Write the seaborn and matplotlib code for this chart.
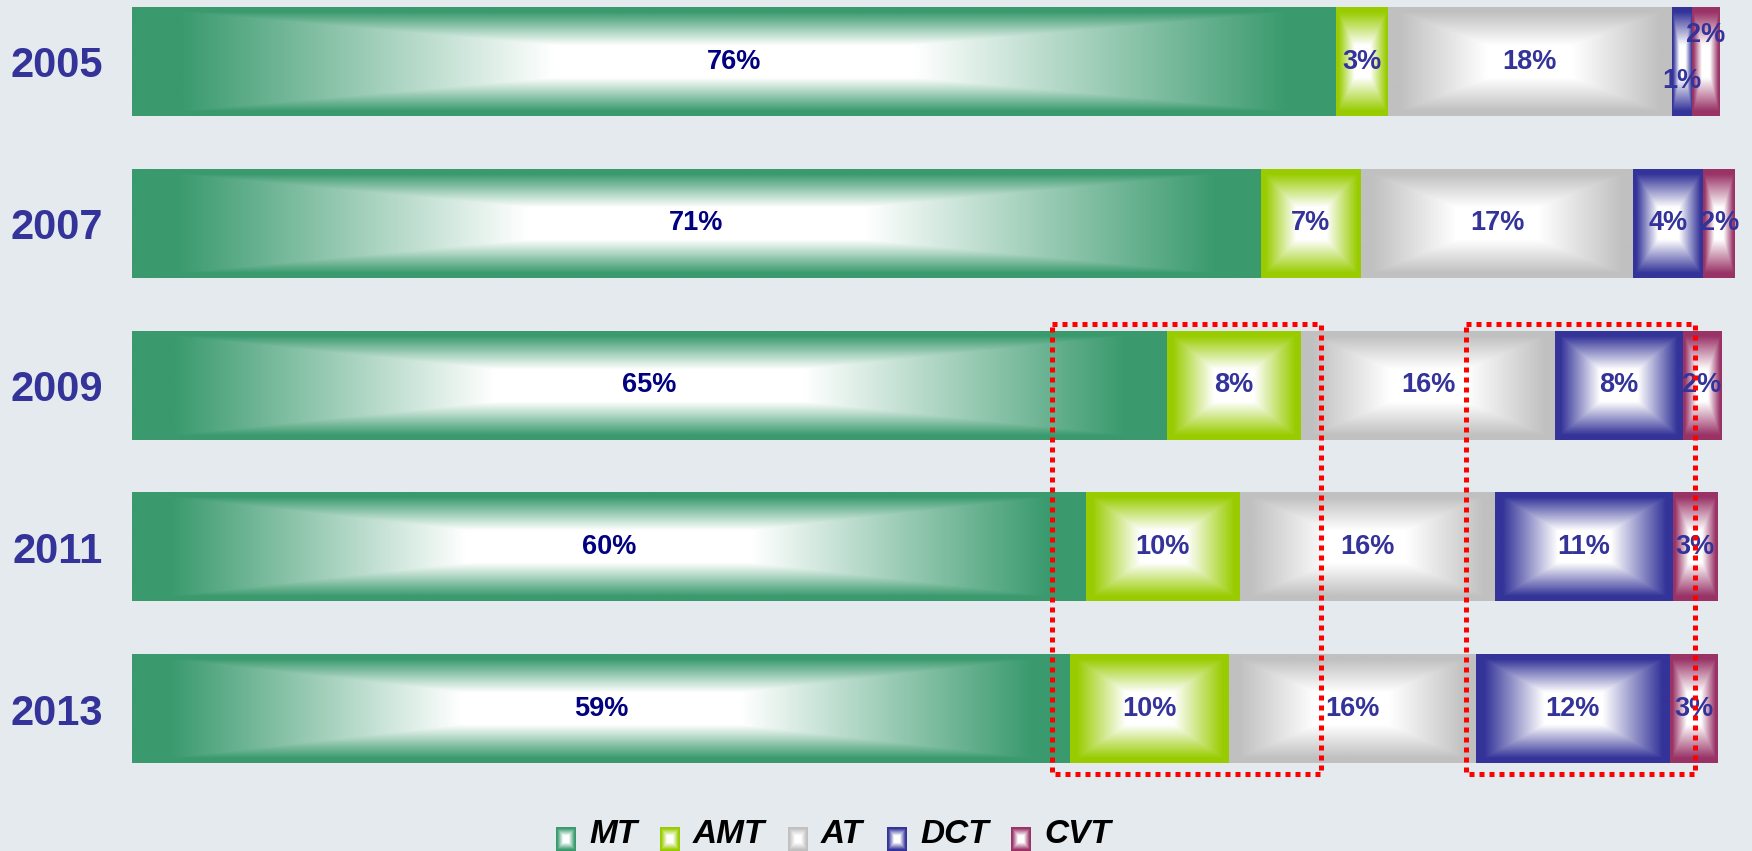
# Stacked share of transmission types by year, with rectangular gradient fills
import numpy as np
import pandas as pd
import matplotlib
matplotlib.use('Agg')
import matplotlib.pyplot as plt
import matplotlib.patches as mpatches
from matplotlib.colors import to_rgb
import seaborn as sns

years = ['2005', '2007', '2009', '2011', '2013']
types = ['MT', 'AMT', 'AT', 'DCT', 'CVT']
mt = [75.6, 70.9, 65.0, 59.9, 58.9]
amt = [3.3, 6.3, 8.4, 9.7, 10.0]
at = [17.8, 17.1, 16.0, 16.0, 15.5]
dct = [1.3, 4.4, 8.0, 11.2, 12.2]
cvt = [1.7, 2.0, 2.4, 2.8, 3.0]
labels = [
    ['76%', '3%', '18%', '1%', '2%'],
    ['71%', '7%', '17%', '4%', '2%'],
    ['65%', '8%', '16%', '8%', '2%'],
    ['60%', '10%', '16%', '11%', '3%'],
    ['59%', '10%', '16%', '12%', '3%'],
]
colors = ['#3a9a6e', '#99cc00', '#c0c0c0', '#333399', '#993366']
bg = '#e5eaee'

df = pd.DataFrame({'year': years, 'MT': mt, 'AMT': amt, 'AT': at, 'DCT': dct, 'CVT': cvt})
cum = df[types].cumsum(axis=1)

sns.set_style('white')
plt.rcParams['font.family'] = ['Liberation Sans', 'DejaVu Sans']

fig = plt.figure(figsize=(17.52, 8.51), dpi=100, facecolor=bg)
ax = fig.add_axes([132 / 1752, 69 / 851, 1608 / 1752, 782 / 851])
ax.set_facecolor(bg)

# base bars (drawn from the outermost cumulative inwards)
bar_w = 0.67
for t, c in reversed(list(zip(types, colors))):
    sns.barplot(x=cum[t], y=df['year'], orient='h', color=c, width=bar_w,
                ax=ax, saturation=1, linewidth=0, zorder=1)


def gradient(c, h=80, w=200):
    u = np.linspace(-1, 1, w)[None, :]
    v = np.linspace(-1, 1, h)[:, None]
    t = np.maximum(np.abs(u), np.abs(v))
    f = np.clip((t - 0.3) / 0.62, 0, 1)[..., None]
    rgb = np.array(to_rgb(c))[None, None, :]
    return (1 - f) * np.ones(3) + f * rgb


# gradient overlays per segment
for i, y in enumerate(years):
    left = 0
    for j, t in enumerate(types):
        w = df.loc[i, t]
        img = gradient(colors[j], w=max(40, int(w * 16)))
        ax.imshow(img, extent=(left, left + w, i + bar_w / 2, i - bar_w / 2),
                  aspect='auto', interpolation='bilinear', zorder=2)
        dy = 0
        if i == 0 and t == 'DCT':
            dy = 0.12
        if i == 0 and t == 'CVT':
            dy = -0.165
        ax.text(left + w / 2, i + dy, labels[i][j], ha='center', va='center',
                fontsize=19.5, fontweight='bold',
                color='#000080' if t == 'MT' else '#333399', zorder=4)
        left += w

# red dotted highlight boxes
for x0, x1 in [(57.8, 74.7), (83.8, 98.2)]:
    ax.add_patch(mpatches.Rectangle((x0, 1.62), x1 - x0, 2.78, fill=False,
                                    ec='red', lw=3.6, ls=(0, (1, 1)),
                                    clip_on=False, zorder=5))

ax.set_xlim(0, 101)
ax.set_ylim(4.45, -0.38)
ax.set_xlabel('')
ax.set_ylabel('')
ax.set_xticks([])
ax.tick_params(axis='y', length=0, pad=21)
for lab in ax.get_yticklabels():
    lab.set_fontsize(30)
    lab.set_fontweight('bold')
    lab.set_color('#333399')
sns.despine(ax=ax, left=True, bottom=True)

# legend with gradient squares
lg = fig.add_axes([0, 0, 1, 1], zorder=10)
lg.axis('off')
lg.patch.set_alpha(0)
leg_x = [556, 660, 788, 887, 1011]
for x, t, c in zip(leg_x, types, colors):
    lg.imshow(gradient(c, h=24, w=20), extent=(x, x + 20, 851, 827),
              aspect='auto', interpolation='bilinear')
    lg.text(x + 33, 850, t, ha='left', va='bottom', fontsize=24,
            fontweight='bold', fontstyle='italic', color='black')
lg.set_xlim(0, 1752)
lg.set_ylim(851, 0)

fig.savefig('out.png', dpi=100, facecolor=bg)
